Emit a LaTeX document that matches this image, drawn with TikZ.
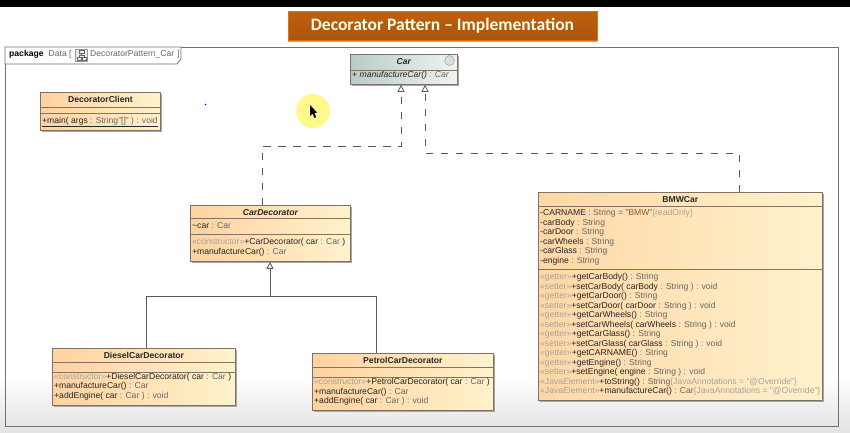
\documentclass[tikz,border=0pt]{standalone}
\usepackage{fontspec}
\setmainfont{Liberation Sans}
\newfontfamily\titlefont{Carlito}
\usetikzlibrary{arrows.meta,positioning,shadows}
\definecolor{typegray}{HTML}{666666}
\definecolor{stereogray}{HTML}{A8A298}
\definecolor{titlebrown}{HTML}{B85C0E}
\definecolor{classleft}{HTML}{FFD2A0}
\definecolor{classright}{HTML}{FFF2CC}
\definecolor{carleft}{HTML}{B7CDC3}
\definecolor{carright}{HTML}{F1F4F1}
\definecolor{edgegray}{HTML}{707070}
\newcommand{\stereo}[1]{\textcolor{stereogray}{«#1»}}
\newcommand{\typ}[1]{\textcolor{typegray}{#1}}
\tikzset{
  classbox/.style={draw=edgegray!90!orange, line width=0.8pt, anchor=north west, inner sep=0pt,
    left color=classleft, right color=classright,
    general shadow={fill=black!35, shadow xshift=1.5pt, shadow yshift=-1.5pt}},
  classname/.style={anchor=north, inner sep=0pt, minimum height=14pt, font=\fontsize{8.6}{10}\selectfont\bfseries, text=black!85},
  members/.style={anchor=north west, inner sep=0pt, align=left, text=black!85, font=\fontsize{8.6}{9.5}\selectfont},
  classline/.style={draw=edgegray!85!orange, line width=0.7pt},
  realize/.style={draw=edgegray!80!black, line width=0.8pt, dash pattern=on 7.5pt off 7.5pt},
  inherit/.style={draw=edgegray!80!black, line width=0.9pt},
  hollow/.style={-{Triangle[open,length=7pt,width=7pt]}}
}
\newcommand{\classdiv}[2]{\draw[classline] ([yshift=-#2pt]#1.north west) -- ([yshift=-#2pt]#1.north east);}
\begin{document}
\begin{tikzpicture}[x=1pt,y=-1pt]
\useasboundingbox (0,0) rectangle (850,432);
% screen
\fill[black] (0,0) rectangle (850,6.5);
\fill[top color=white, bottom color=black!11] (0,375) rectangle (850,432);
% title
\node[minimum width=309pt, minimum height=29pt, inner sep=0pt, top color=titlebrown!90!orange, bottom color=titlebrown!92!black,
  draw=orange!60!titlebrown, general shadow={fill=black!35, shadow yshift=-1.5pt}, text=white!90!yellow,
  font=\titlefont\fontsize{17.5}{19}\selectfont\bfseries] (title) at (442.5,26) {Decorator Pattern – Implementation};
% frame
\node[draw=edgegray, line width=1pt, anchor=north west, minimum width=833pt, minimum height=379pt, inner sep=0pt] (frame) at (5,47) {};
\draw[edgegray, line width=0.8pt, fill=white] (frame.north west) -- (181,47) -- (181,59) -- (177,64) -- (5,64) -- cycle;
\node[anchor=west, inner sep=0pt, font=\fontsize{8.6}{10}\selectfont] (tab) at (9,54.5) {\textbf{package}\hspace{5pt}\typ{Data [}};
\node[draw=black!40, fill=black!8, minimum size=12pt, inner sep=0pt] (icon) at (81.5,55) {};
\draw[black!60, line width=0.5pt] (79,50) rectangle (84,53) (77,57) rectangle (81,60) (82.5,57) rectangle (86.5,60) (81.5,53) -- (81.5,55) (79,57) -- (79,55) -- (84.5,55) -- (84.5,57);
\node[anchor=west, inner sep=0pt, font=\fontsize{8.6}{10}\selectfont] (tabname) at (90,54.5) {\typ{DecoratorPattern\_Car\hspace{3pt}]}};
% cursor
\fill[yellow!45!white] (313,111) circle (17);
\fill[black] (310,105) -- (310,116) -- (312.5,113.5) -- (314.5,118) -- (316,117) -- (314.5,113) -- (317,112.5) -- cycle;
\fill[blue] (205.5,104.5) circle (0.8);
% classes
\node[classbox, left color=carleft, right color=carright, minimum width=107pt, minimum height=30pt] (car) at (350,54) {};
\node[classbox, minimum width=120pt, minimum height=38pt] (client) at (40,92) {};
\node[classbox, minimum width=160pt, minimum height=56pt] (cardeco) at (190,205) {};
\node[classbox, left color=classleft!85!classright, minimum width=284pt, minimum height=208pt] (bmw) at (538,192) {};
\node[classbox, minimum width=183pt, minimum height=57pt] (diesel) at (52,348) {};
\node[classbox, minimum width=181pt, minimum height=57pt] (petrol) at (312,353) {};
\classdiv{car}{16}
\classdiv{client}{15}
\classdiv{client}{21}
\classdiv{cardeco}{13.5}
\classdiv{cardeco}{29}
\classdiv{bmw}{14}
\classdiv{bmw}{77}
\classdiv{diesel}{14}
\classdiv{diesel}{24}
\classdiv{petrol}{14}
\classdiv{petrol}{24}
% names
\node[classname, font=\fontsize{8.6}{10}\selectfont\bfseries\itshape, below=0pt of car.north] (carname) {Car};
\node[draw=black!40, fill=carleft!60!white, minimum size=10pt, inner sep=0pt, circle] (carball) at (449.5,60.5) {};
\node[classname, below=0pt of client.north] (clientname) {DecoratorClient};
\node[classname, font=\fontsize{8.6}{10}\selectfont\bfseries\itshape, below=0pt of cardeco.north] (decname) {CarDecorator};
\node[classname, below=0pt of bmw.north] (bmwname) {BMWCar};
\node[classname, below=0pt of diesel.north] (dieselname) {DieselCarDecorator};
\node[classname, below=0pt of petrol.north] (petrolname) {PetrolCarDecorator};
% members
\node[members, font=\fontsize{8.6}{9.5}\selectfont\itshape] (carops) at (352,71.5) {+ manufactureCar() \typ{: Car}};
\node[members] (clientops) at (42,117) {\underline{+main( args \typ{: String"[]" ) : void}}};
\node[members] (decattr) at (192,222) {\textasciitilde car \typ{: Car}};
\node[members] (decops) at (192,238.5) {\stereo{constructor}+CarDecorator( car \typ{: Car} )\\+manufactureCar() \typ{: Car}};
\node[members] (bmwattr) at (540,209.5) {-CARNAME \typ{: String =} \textcolor{brown!70!black}{"BMW"}\textcolor{stereogray}{\{readOnly\}}\\-carBody \typ{: String}\\-carDoor \typ{: String}\\-carWheels \typ{: String}\\-carGlass \typ{: String}\\-engine \typ{: String}};
\node[members] (bmwops) at (540,273.5) {\stereo{getter}+getCarBody() \typ{: String}\\
\stereo{setter}+setCarBody( carBody \typ{: String ) : void}\\
\stereo{getter}+getCarDoor() \typ{: String}\\
\stereo{setter}+setCarDoor( carDoor \typ{: String ) : void}\\
\stereo{getter}+getCarWheels() \typ{: String}\\
\stereo{setter}+setCarWheels( carWheels \typ{: String ) : void}\\
\stereo{getter}+getCarGlass() \typ{: String}\\
\stereo{setter}+setCarGlass( carGlass \typ{: String ) : void}\\
\stereo{getter}+getCARNAME() \typ{: String}\\
\stereo{getter}+getEngine() \typ{: String}\\
\stereo{setter}+setEngine( engine \typ{: String ) : void}\\
\stereo{JavaElement}+toString() \typ{: String}\textcolor{stereogray}{\{JavaAnnotations = "@Override"\}}\\
\stereo{JavaElement}+manufactureCar() \typ{: Car}\textcolor{stereogray}{\{JavaAnnotations = "@Override"\}}};
\node[members] (dieselops) at (54,373) {\stereo{constructor}+DieselCarDecorator( car \typ{: Car} )\\+manufactureCar() \typ{: Car}\\+addEngine( car \typ{: Car ) : void}};
\node[members] (petrolops) at (314,378.5) {\stereo{constructor}+PetrolCarDecorator( car \typ{: Car} )\\+manufactureCar() \typ{: Car}\\+addEngine( car \typ{: Car ) : void}};
% edges
\coordinate (decotop) at (262,146);
\coordinate (bmwtop) at (739,153);
\coordinate (dieselup) at (146,296);
\coordinate (petrolup) at (376,296);
\coordinate (inhjoin) at (270,296);
\draw[realize, hollow] (cardeco.north -| decotop) -- (decotop) -- (decotop -| 401,0) -- (car.south -| 401,0);
\draw[realize, hollow] (bmw.north -| bmwtop) -- (bmwtop) -- (bmwtop -| 425,0) -- (car.south -| 425,0);
\draw[inherit] (diesel.north -| dieselup) -- (dieselup) -- (petrolup) -- (petrol.north -| petrolup);
\draw[inherit, hollow] (inhjoin) -- (cardeco.south -| inhjoin);
\end{tikzpicture}
\end{document}
